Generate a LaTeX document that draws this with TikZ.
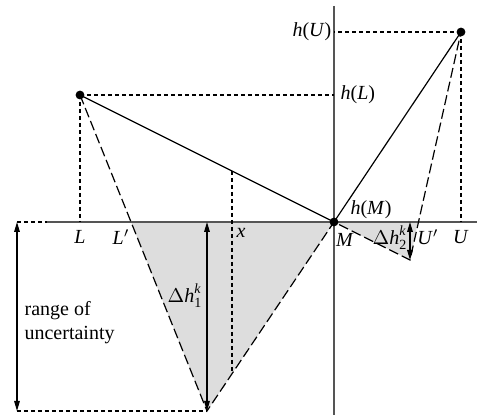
\documentclass[tikz,border=0pt]{standalone}
\usepackage{amsmath}
\usepackage{fontspec}
\setmainfont{Liberation Serif}
\usetikzlibrary{arrows.meta,calc,positioning}
\definecolor{shadegray}{RGB}{221,221,221}
\definecolor{axisgray}{RGB}{85,85,85}
\tikzset{
  shortdash/.style={dash pattern=on 2pt off 1.5pt,line width=0.55pt},
  longdash/.style={dash pattern=on 5pt off 2pt,line width=0.6pt},
  axisline/.style={axisgray,line width=0.7pt},
  lbl/.style={inner sep=1pt}
}
\begin{document}
\begin{tikzpicture}[x=0.5pt,y=-0.5pt,>={Triangle[length=5pt,width=2.8pt]},line width=0.6pt,font=\fontsize{10}{12}\selectfont]
  \useasboundingbox (0,0) rectangle (479,415);
  % points of the construction
  \coordinate (pL) at (80,95);
  \coordinate (pU) at (461,32);
  \coordinate (M) at (334,222);
  \coordinate (L) at (80,222);
  \coordinate (U) at (461,222);
  \coordinate (Lp) at (131,222);
  \coordinate (Up) at (418,222);
  \coordinate (low1) at (207,411);
  \coordinate (low2) at (410,260);
  \coordinate (xt) at (232,171);
  \coordinate (xb) at (232,373);
  \coordinate (ax0) at (47,222);
  \coordinate (ax1) at (477,222);
  \coordinate (vt) at (334,6);
  \coordinate (vb) at (334,415);
  \coordinate (r0) at (17,222);
  \coordinate (r1) at (17,411);
  % shaded regions
  \fill[shadegray] (Lp)--(M)--(low1)--cycle;
  \fill[shadegray] (M)--(Up)--(low2)--cycle;
  % axes
  \draw[axisline] (ax0)--(ax1);
  \draw[axisline] (vt)--(vb);
  % projections
  \draw[shortdash] (pL)--(L);
  \draw[shortdash] (pL)--(pL -| M);
  \draw[shortdash] (pU)--(pU -| M);
  \draw[shortdash] (pU)--(U);
  \draw[shortdash] (xt)--(xb);
  \draw[shortdash] (r0)--(ax0);
  \draw[shortdash] (r1)--(low1);
  % function and bounds
  \draw (pL)--(M)--(pU);
  \draw[longdash] (pL)--(low1)--(M)--(low2)--(pU);
  % arrows
  \draw[<->] (r0)--(r1);
  \draw[<->] (low1 |- M)--(low1);
  \draw[<->] (low2 |- M)--(low2);
  \fill (pL) circle (2.2pt);
  \fill (pU) circle (2.2pt);
  \fill (M) circle (2.2pt);
  % labels
  \node[lbl,left] (labhU) at (pU -| M) {\textit{h}(\textit{U})};
  \node[lbl,right=2pt] (labhL) at (pL -| M) {\textit{h}(\textit{L})};
  \node[lbl] (labhM) at (371,210) {\textit{h}(\textit{M})};
  \node[lbl] (labM) at (345,240) {\textit{M}};
  \node[lbl] (labL) at (80,237) {\textit{L}};
  \node[lbl] (labLp) at (121,237) {\textit{L}$'$};
  \node[lbl] (labx) at (241,233) {\textit{x}};
  \node[lbl] (labUp) at (428,237) {\textit{U}$'$};
  \node[lbl] (labU) at (461,237) {\textit{U}};
  \node[lbl,left=1pt] (labdh1) at (207,296) {$\Delta\textit{h}^{\textit{k}}_{\text{1}}$};
  \node[lbl,left=0pt] (labdh2) at (410,238) {$\Delta\textit{h}^{\textit{k}}_{\text{2}}$};
  \node[lbl,anchor=west,align=left] (labrange) at (22,323) {range of\\uncertainty};
\end{tikzpicture}
\end{document}
